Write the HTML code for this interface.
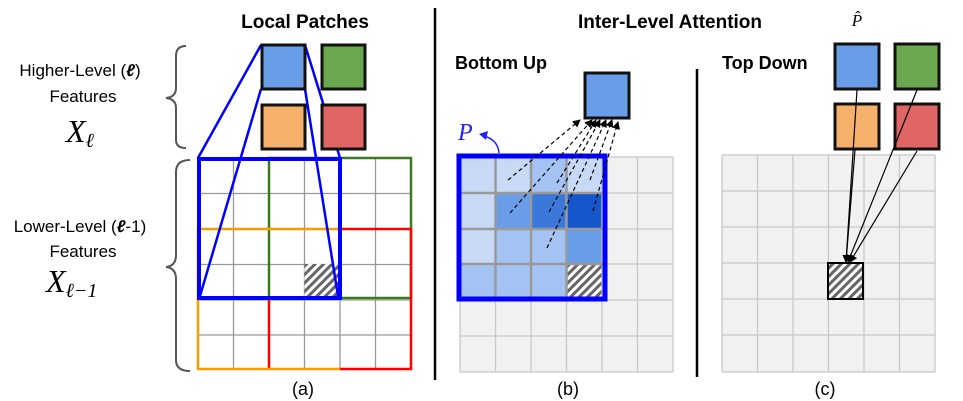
<!DOCTYPE html>
<html><head><meta charset="utf-8"><style>body{margin:0;background:#fff}svg{display:block}</style></head><body>
<svg width="963" height="401" viewBox="0 0 963 401" xmlns="http://www.w3.org/2000/svg" font-family="Liberation Sans, sans-serif">
<defs>
<pattern id="h" width="6" height="6" patternUnits="userSpaceOnUse" patternTransform="rotate(45)"><rect width="6" height="6" fill="#fff"/><rect width="3" height="6" fill="#666"/></pattern>
<marker id="ar" markerWidth="8" markerHeight="8" refX="7" refY="4" orient="auto" markerUnits="userSpaceOnUse"><path d="M0,0 L8,4 L0,8 Z" fill="#000"/></marker>
</defs>
<text x="305" y="28" font-size="19" font-weight="bold" text-anchor="middle">Local Patches</text>
<text x="670" y="28" font-size="19" font-weight="bold" text-anchor="middle">Inter-Level Attention</text>
<text x="455" y="69" font-size="18" font-weight="bold">Bottom Up</text>
<text x="722" y="69" font-size="18" font-weight="bold">Top Down</text>
<text x="857" y="26" font-size="17" font-style="italic" font-family="Liberation Serif, serif" text-anchor="middle">P̂</text>
<g font-size="17" text-anchor="middle">
<text x="80" y="76">Higher-Level (<tspan font-style="italic" font-weight="bold">ℓ</tspan>)</text>
<text x="83" y="102">Features</text>
<text x="80" y="232">Lower-Level (<tspan font-style="italic" font-weight="bold">ℓ</tspan>-1)</text>
<text x="83" y="257">Features</text>
</g>
<text x="66" y="142" font-size="32" font-style="italic" font-family="Liberation Serif, serif">X<tspan font-size="20" dy="5">ℓ</tspan></text>
<text x="46" y="292" font-size="32" font-style="italic" font-family="Liberation Serif, serif">X<tspan font-size="20" dy="5">ℓ−1</tspan></text>
<g fill="none" stroke="#555" stroke-width="2">
<path d="M186,46 Q176,46 176,56 L176,88 Q176,97 166,98 Q176,99 176,108 L176,140 Q176,148 186,148"/>
<path d="M190,160 Q176,160 176,172 L176,255 Q176,266 166,267 Q176,268 176,279 L176,360 Q176,371 190,371"/>
</g>
<line x1="435" y1="8" x2="435" y2="380" stroke="#000" stroke-width="2.5"/>
<line x1="697" y1="69" x2="697" y2="377" stroke="#000" stroke-width="2.5"/>
<g stroke="#999" stroke-width="1.3">
<path d="M233.5,158V369M269,158V369M304.5,158V369M340,158V369M375.5,158V369M198,193.5H411M198,229H411M198,264.5H411M198,300H411M198,335H411"/>
</g>
<rect x="304.5" y="264" width="35.5" height="35" fill="url(#h)"/>
<g fill="none" stroke-width="2.5">
<path d="M269,158H411V298H269Z" stroke="#3a7a20"/>
<path d="M269,298V369M340,229H411V369H340" stroke="#f00"/>
<path d="M198,229H340M198,229V369H340" stroke="#f90"/>
</g>
<rect x="199" y="159" width="141" height="139" fill="none" stroke="#00f" stroke-width="4"/>
<g stroke="#00f" stroke-width="2.5"><line x1="261" y1="45" x2="198" y2="158"/><line x1="305" y1="45" x2="340" y2="158"/><line x1="261" y1="89" x2="200" y2="296"/><line x1="305" y1="89" x2="338" y2="296"/></g>
<g stroke="#111" stroke-width="3">
<rect x="262" y="45" width="43" height="44" fill="#6a9de8"/>
<rect x="322" y="45" width="43" height="44" fill="#6aa84f"/>
<rect x="262" y="105" width="43" height="44" fill="#f5b06c"/>
<rect x="322" y="105" width="43" height="44" fill="#e06666"/>
</g>
<text x="303" y="395" font-size="18" text-anchor="middle">(a)</text>
<rect x="460" y="157" width="213" height="215" fill="#f1f1f1"/>
<rect x="460" y="157" width="146" height="143" fill="#c8d9f5"/>
<rect x="531" y="157" width="35.5" height="36" fill="#a4c2f2"/>
<rect x="495.5" y="193" width="35.5" height="36" fill="#6a9de8"/>
<rect x="531" y="193" width="35.5" height="36" fill="#3a78da"/>
<rect x="566.5" y="193" width="38" height="36" fill="#1556cc"/>
<rect x="495.5" y="229" width="71" height="35" fill="#a4c2f2"/>
<rect x="566.5" y="229" width="38" height="35" fill="#6a9de8"/>
<rect x="460" y="264" width="106.5" height="36" fill="#a4c2f2"/>
<rect x="566.5" y="264" width="38" height="36" fill="url(#h)"/>
<g stroke="#c8c8c8" stroke-width="1.3"><path d="M495.5,157V372M531,157V372M566.5,157V372M602,157V372M637.5,157V372M460,193H673M460,229H673M460,264H673M460,300H673M460,336H673M460,372H673M460,157H673M460,157V372M673,157V372"/></g>
<g stroke="#999" stroke-width="2.5"><path d="M495.5,157V300M531,157V300M566.5,157V300M460,193H605M460,229H605M460,264H605"/></g>
<rect x="459" y="156" width="146" height="143" fill="none" stroke="#00f" stroke-width="5"/>
<g stroke="#000" stroke-width="1.2" stroke-dasharray="4,3" fill="none" marker-end="url(#ar)">
<line x1="508" y1="180" x2="580" y2="120"/>
<line x1="510" y1="213" x2="592" y2="120"/>
<line x1="549" y1="212" x2="600" y2="120"/>
<line x1="547" y1="248" x2="606" y2="120"/>
<line x1="557" y1="183" x2="596" y2="120"/>
<line x1="590" y1="180" x2="612" y2="120"/>
<line x1="593" y1="211" x2="618" y2="122"/>
</g>
<rect x="585" y="73" width="44" height="45" fill="#6a9de8" stroke="#111" stroke-width="3"/>
<text x="458" y="140" font-size="24" font-style="italic" fill="#22f" font-family="Liberation Serif, serif">P</text>
<path d="M499,153 Q498,140 484,136" fill="none" stroke="#22f" stroke-width="1.5"/>
<path d="M479,134 L488,131 L486,140Z" fill="#22f"/>
<text x="568" y="395" font-size="18" text-anchor="middle">(b)</text>
<rect x="722" y="155" width="213" height="217" fill="#f1f1f1"/>
<g stroke="#c8c8c8" stroke-width="1.3"><path d="M757.5,155V372M793,155V372M828.5,155V372M864,155V372M899.5,155V372M722,191H935M722,227H935M722,263H935M722,299H935M722,335H935M722,155H935M722,372H935M722,155V372M935,155V372"/></g>
<rect x="828" y="263" width="35" height="36" fill="url(#h)" stroke="#000" stroke-width="2"/>
<g stroke="#111" stroke-width="3">
<rect x="835" y="44" width="44" height="45" fill="#6a9de8"/>
<rect x="895" y="44" width="44" height="45" fill="#6aa84f"/>
<rect x="835" y="104" width="44" height="45" fill="#f5b06c"/>
<rect x="895" y="104" width="44" height="45" fill="#e06666"/>
</g>
<g stroke="#000" stroke-width="1.2" marker-end="url(#ar)">
<line x1="857" y1="90" x2="846" y2="262"/>
<line x1="855" y1="150" x2="846" y2="262"/>
<line x1="917" y1="90" x2="848" y2="262"/>
<line x1="917" y1="151" x2="850" y2="262"/>
</g>
<text x="825" y="395" font-size="18" text-anchor="middle">(c)</text>
</svg>
</body></html>
